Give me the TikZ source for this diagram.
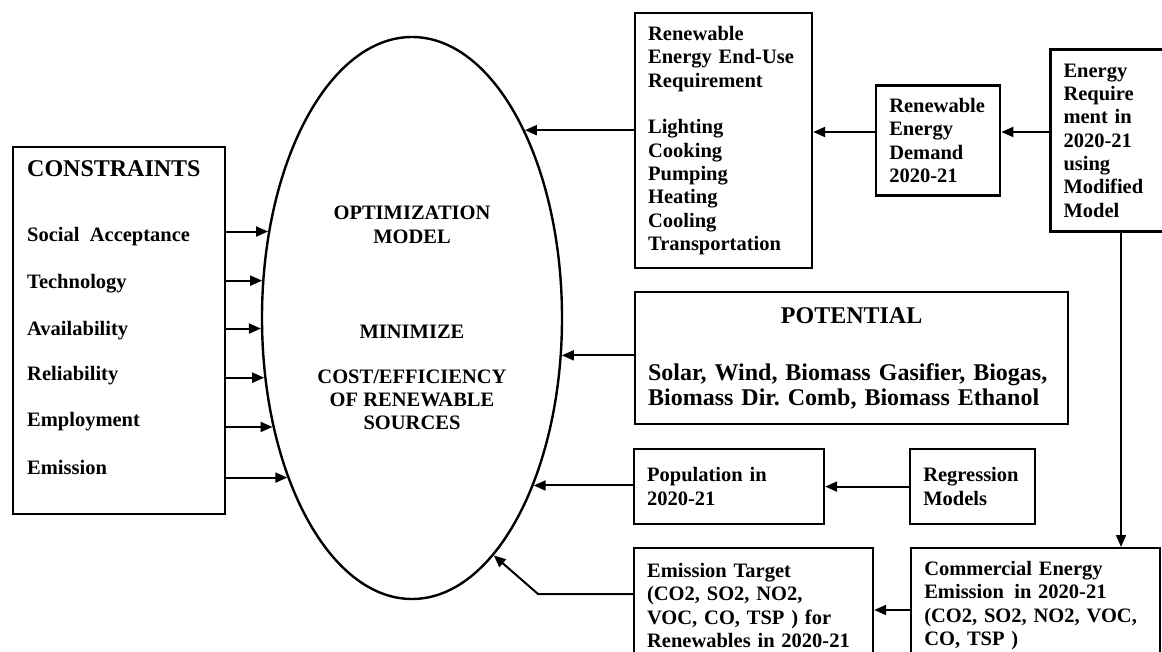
\documentclass[tikz,border=0pt]{standalone}
\usepackage{fontspec}
\setmainfont{Liberation Serif}
\usetikzlibrary{arrows.meta, positioning, shapes.geometric}
\newcommand{\boxfont}{\fontsize{20.5}{23.3}\selectfont\bfseries}
\newcommand{\headfont}{\fontsize{24}{24.5}\selectfont\bfseries}
\hyphenpenalty=10000

\begin{document}
\begin{tikzpicture}[x=1pt, y=-1pt,
    box/.style={rectangle, draw=black, line width=2.2pt, inner xsep=13pt, inner ysep=8pt,
                align=left, font=\boxfont, text width=#1},
    arrow/.style={-{Triangle[length=12pt, width=10pt]}, line width=2pt, black}
  ]
    \useasboundingbox (0,0) rectangle (1162,652);
    \clip (0,0) rectangle (1162,652);

    % optimization model
    \node[ellipse, draw, line width=2.4pt, minimum width=300pt, minimum height=562pt,
          align=center, font=\boxfont] (opt) at (412,318)
          {OPTIMIZATION\\MODEL\\[71.7pt]MINIMIZE\\[21.7pt]COST/EFFICIENCY\\OF RENEWABLE\\SOURCES};

    % constraints
    \node[box=186pt, minimum height=367pt, anchor=north west] (cons) at (12,146) {};
    \node[font=\headfont, inner sep=0pt, anchor=base west] (ctitle) at (27,177) {CONSTRAINTS};
    \foreach \nm/\yy/\txt in {soc/235/Social\enspace Acceptance, tech/282/Technology,
                             avail/328/Availability, rel/373/Reliability,
                             empl/419/Employment, emis/467/Emission}
      \node[font=\boxfont, inner sep=0pt, anchor=base west] (\nm) at (27,\yy+7) {\txt};
    \foreach \ang in {149,166,184,202,218,232}
      \draw[arrow] (opt.\ang -| cons.east) -- (opt.\ang);

    % demand chain
    \node[box=151pt, minimum height=255pt, anchor=north west] (enduse) at (634,12)
          {Renewable\\Energy End-Use\\Requirement\\[23.3pt]Lighting\\Cooking\\Pumping\\Heating\\Cooling\\Transportation};
    \node[box=98pt, minimum height=110pt, right=62pt of enduse] (demand) {Renewable\\Energy\\Demand\\2020-21};
    \node[box=89pt, minimum height=182pt, right=48pt of demand] (energy)
          {Energy\\Require\\ment in\\2020-21\\using\\Modified\\Model};
    \coordinate (row) at (0,132);
    \draw[arrow] (energy.west |- row) -- (demand.east |- row);
    \draw[arrow] (demand.west |- row) -- (enduse.east |- row);
    \draw[arrow] (enduse.west |- opt.59) -- (opt.59);

    % potential
    \node[box=407pt, minimum height=132pt, anchor=north west, font=\headfont] (pot) at (634,291)
          {\makebox[407pt]{POTENTIAL}\\[33pt]Solar, Wind, Biomass Gasifier, Biogas,\\Biomass Dir.\ Comb, Biomass Ethanol};
    \draw[arrow] (opt.346 -| pot.west) -- (opt.346);

    % population
    \node[box=164pt, minimum height=75pt, anchor=north west] (pop) at (633,448) {Population in\\2020-21};
    \node[box=99pt, minimum height=75pt, right=84pt of pop] (reg) {Regression\\Models};
    \draw[arrow] (reg.west) -- (reg.west -| pop.east);
    \draw[arrow] (pop.west |- opt.306) -- (opt.306);

    % emissions
    \node[box=213pt, minimum height=115pt, anchor=north west] (target) at (633,547)
          {Emission Target\\(CO2, SO2, NO2,\\VOC, CO, TSP ) for\\Renewables in 2020-21};
    \node[box=223pt, minimum height=115pt, right=36pt of target] (comm)
          {Commercial Energy\\Emission\enspace in 2020-21\\(CO2, SO2, NO2, VOC,\\CO, TSP )};
    \coordinate (vcol) at (1121,0);
    \draw[arrow] (energy.south -| vcol) -- (comm.north -| vcol);
    \coordinate (row2) at (0,610);
    \draw[arrow] (comm.west |- row2) -- (target.east |- row2);
    \coordinate (bend) at (538,594);
    \draw[arrow] (target.west |- bend) -- (bend) -- (opt.289);
  \end{tikzpicture}
\end{document}
